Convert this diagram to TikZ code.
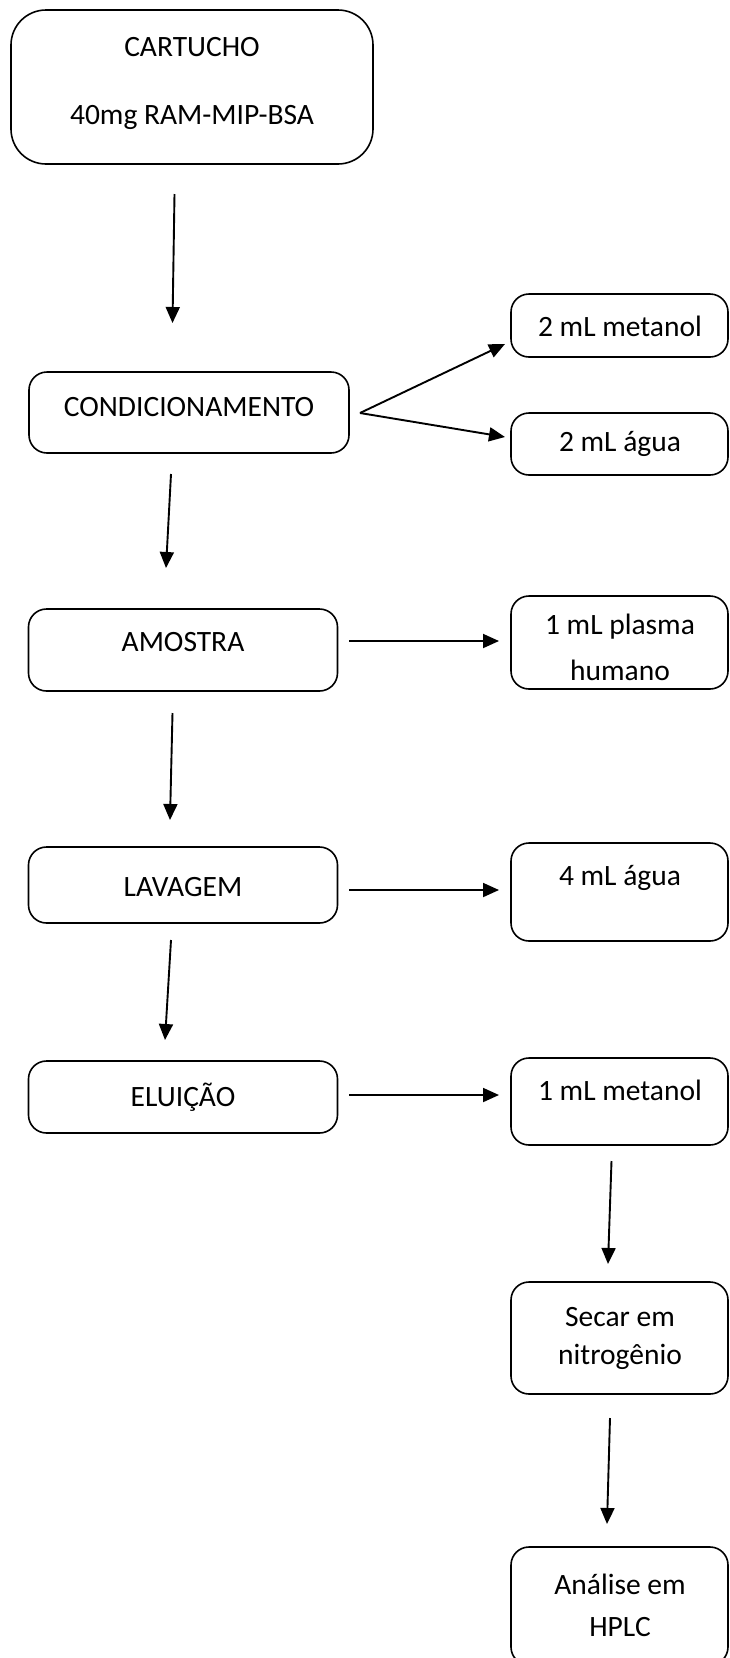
\documentclass[tikz,border=0pt]{standalone}
\usepackage{fontspec}
\setmainfont{Carlito}
\usetikzlibrary{arrows.meta}
\tikzset{
  box/.style={draw, line width=1.6pt, rounded corners=18pt, inner sep=0pt},
  lbl/.style={inner sep=0pt, font=\fontsize{29.5}{33}\selectfont},
  arr/.style={line width=1.9pt, -{Triangle[length=16pt,width=14pt]}}
}
\begin{document}
\begin{tikzpicture}[x=1pt,y=-1pt]
\useasboundingbox (0,0) rectangle (729,1658);
% boxes
\node[box, rounded corners=35pt, minimum width=362pt, minimum height=154pt] (cart) at (192,87) {};
\node[box, minimum width=320pt, minimum height=81pt] (cond) at (189,412.5) {};
\node[box, minimum width=217pt, minimum height=63pt] (met2) at (619.5,325.5) {};
\node[box, minimum width=217pt, minimum height=62pt] (agua2) at (619.5,444) {};
\node[box, minimum width=309pt, minimum height=82pt] (amos) at (183,650) {};
\node[box, minimum width=217pt, minimum height=93pt] (plas) at (619.5,642.5) {};
\node[box, minimum width=309pt, minimum height=76pt] (lav) at (183,885) {};
\node[box, minimum width=217pt, minimum height=98pt] (agua4) at (619.5,892) {};
\node[box, minimum width=309pt, minimum height=72pt] (elu) at (183,1097) {};
\node[box, minimum width=217pt, minimum height=87pt] (met1) at (619.5,1101.5) {};
\node[box, minimum width=217pt, minimum height=112pt] (sec) at (619.5,1338) {};
\node[box, minimum width=217pt, minimum height=118pt] (hplc) at (619.5,1606) {};
% texts
\node[lbl] (t1) at (192,47) {CARTUCHO};
\node[lbl] (t2) at (192,117) {40mg RAM-MIP-BSA};
\node[lbl] (t3) at (189,407) {CONDICIONAMENTO};
\node[lbl] (t4) at (620,326) {2 mL metanol};
\node[lbl] (t5) at (620,444) {2 mL água};
\node[lbl] (t6) at (183,642) {AMOSTRA};
\node[lbl] (t7) at (620,627) {1 mL plasma};
\node[lbl] (t8) at (620,670) {humano};
\node[lbl] (t9) at (183,887) {LAVAGEM};
\node[lbl] (t10) at (620,878) {4 mL água};
\node[lbl] (t11) at (183,1097) {ELUIÇÃO};
\node[lbl] (t12) at (620,1090) {1 mL metanol};
\node[lbl] (t13) at (620,1317) {Secar em};
\node[lbl] (t14) at (620,1357) {nitrogênio};
\node[lbl] (t15) at (620,1584) {Análise em};
\node[lbl] (t16) at (620,1627) {HPLC};
% connector end points
\coordinate (a1s) at (174.5,194); \coordinate (a1e) at (172.5,323);
\coordinate (a2s) at (171,474);   \coordinate (a2e) at (166,568);
\coordinate (a3s) at (172.5,713); \coordinate (a3e) at (170,820);
\coordinate (a4s) at (171,940);   \coordinate (a4e) at (165,1040);
\coordinate (a5s) at (611.5,1161); \coordinate (a5e) at (608,1264);
\coordinate (a6s) at (610,1418);  \coordinate (a6e) at (607,1524);
\coordinate (h1s) at (349,641);   \coordinate (h1e) at (499,641);
\coordinate (h2s) at (349,890);   \coordinate (h2e) at (499,890);
\coordinate (h3s) at (349,1095);  \coordinate (h3e) at (499,1095);
\coordinate (bs) at (360,413);
\coordinate (b1e) at (505,344);   \coordinate (b2e) at (505,437);
% arrows
\draw[arr] (a1s) -- (a1e);
\draw[arr] (a2s) -- (a2e);
\draw[arr] (a3s) -- (a3e);
\draw[arr] (a4s) -- (a4e);
\draw[arr] (a5s) -- (a5e);
\draw[arr] (a6s) -- (a6e);
\draw[arr] (h1s) -- (h1e);
\draw[arr] (h2s) -- (h2e);
\draw[arr] (h3s) -- (h3e);
\draw[arr] (bs) -- (b1e);
\draw[arr] (bs) -- (b2e);
\end{tikzpicture}
\end{document}
